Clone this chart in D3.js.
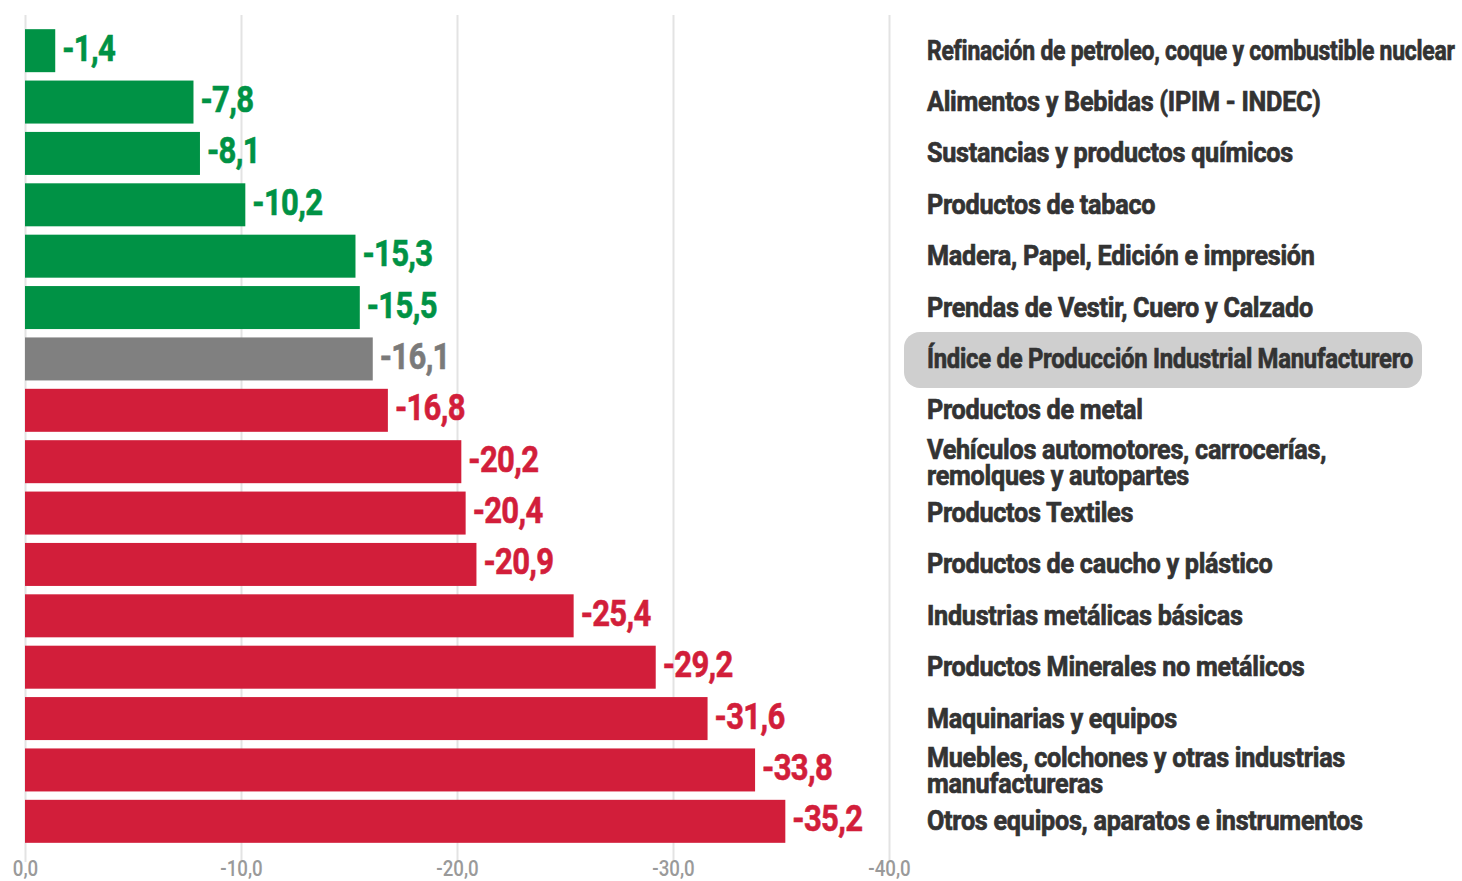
<!DOCTYPE html>
<html>
<head>
<meta charset="utf-8">
<script src="https://cdn.jsdelivr.net/npm/d3@7"></script>
<style>
  html, body { margin: 0; padding: 0; background: #fff; }
  svg { display: block; }
  text { font-family: Roboto, "Noto Sans", sans-serif; font-weight: 700; }
</style>
</head>
<body>
<svg id="chart" width="1462" height="881"></svg>
<script>
const categories = [
  ["Refinación de petroleo, coque y combustible nuclear"],
  ["Alimentos y Bebidas (IPIM - INDEC)"],
  ["Sustancias y productos químicos"],
  ["Productos de tabaco"],
  ["Madera, Papel, Edición e impresión"],
  ["Prendas de Vestir, Cuero y Calzado"],
  ["Índice de Producción Industrial Manufacturero"],
  ["Productos de metal"],
  ["Vehículos automotores, carrocerías,", "remolques y autopartes"],
  ["Productos Textiles"],
  ["Productos de caucho y plástico"],
  ["Industrias metálicas básicas"],
  ["Productos Minerales no metálicos"],
  ["Maquinarias y equipos"],
  ["Muebles, colchones y otras industrias", "manufactureras"],
  ["Otros equipos, aparatos e instrumentos"]
];
const values = [-1.4, -7.8, -8.1, -10.2, -15.3, -15.5, -16.1, -16.8, -20.2, -20.4, -20.9, -25.4, -29.2, -31.6, -33.8, -35.2];
const groups = ["up","up","up","up","up","up","total","down","down","down","down","down","down","down","down","down"];
const ticks = [0, -10, -20, -30, -40];

const barColor = { up: "#009245", total: "#808080", down: "#d21e3a" };
const labelColor = { up: "#009245", total: "#7a7a7a", down: "#d21e3a" };
const locale = d3.formatLocale({ decimal: ",", thousands: ".", grouping: [3], currency: ["$", ""], minus: "-" });
const fmt = locale.format(".1f");

const svg = d3.select("#chart");
const ids = d3.range(categories.length);

const x = d3.scaleLinear().domain([0, -40]).range([25, 889]);
const y = d3.scaleBand().domain(ids).range([20.8, 851.2]).padding(0.163);

// grid + axis
const axis = d3.axisBottom(x).tickValues(ticks).tickFormat(fmt).tickSize(-847).tickPadding(-2);
const ga = svg.append("g").attr("transform", "translate(0,862)").call(axis);
ga.select(".domain").remove();
ga.selectAll(".tick line").attr("stroke", "#e3e3e3").attr("stroke-width", 2);
ga.selectAll(".tick text")
  .attr("fill", "#9a9a9a")
  .style("font-size", "22px")
  .style("font-weight", "500")
  .attr("transform", "scale(0.85,1)");

// bars
svg.append("g").selectAll("rect").data(ids).join("rect")
  .attr("x", x(0))
  .attr("y", i => y(i))
  .attr("width", i => x(values[i]) - x(0))
  .attr("height", y.bandwidth())
  .attr("fill", i => barColor[groups[i]]);

// value labels
svg.append("g").selectAll("text").data(ids).join("text")
  .attr("transform", i => `translate(${x(values[i]) + 7},${y(i) + y.bandwidth() / 2 + 10}) scale(0.84,1)`)
  .attr("fill", i => labelColor[groups[i]])
  .attr("stroke", i => labelColor[groups[i]])
  .attr("stroke-width", 0.6)
  .style("font-size", "37px")
  .style("letter-spacing", "-0.8px")
  .text(i => fmt(values[i]));

// highlight box for total
const ti = groups.indexOf("total");
svg.append("rect")
  .attr("x", 904).attr("width", 518)
  .attr("y", y(ti) + y.bandwidth() / 2 - 27).attr("height", 56)
  .attr("rx", 16).attr("fill", "#cfcfcf");

// category labels
const labelX = 927, baseScale = 0.9;
ids.forEach(i => {
  const lines = categories[i];
  const cy = y(i) + y.bandwidth() / 2;
  const offs = lines.length === 1 ? [9] : [-3, 23];
  const maxW = groups[i] === "total" ? 486 : 1455 - labelX;
  lines.forEach((t, k) => {
    const tx = svg.append("text")
      .attr("fill", "#333333")
      .attr("stroke", "#333333")
      .attr("stroke-width", 0.7)
      .style("font-size", "28px")
      .style("letter-spacing", "-0.3px")
      .text(t);
    const w = tx.node().getComputedTextLength();
    const sx = Math.min(baseScale, maxW / w);
    tx.attr("transform", `translate(${labelX},${cy + offs[k]}) scale(${sx},1)`);
  });
});
</script>
</body>
</html>
